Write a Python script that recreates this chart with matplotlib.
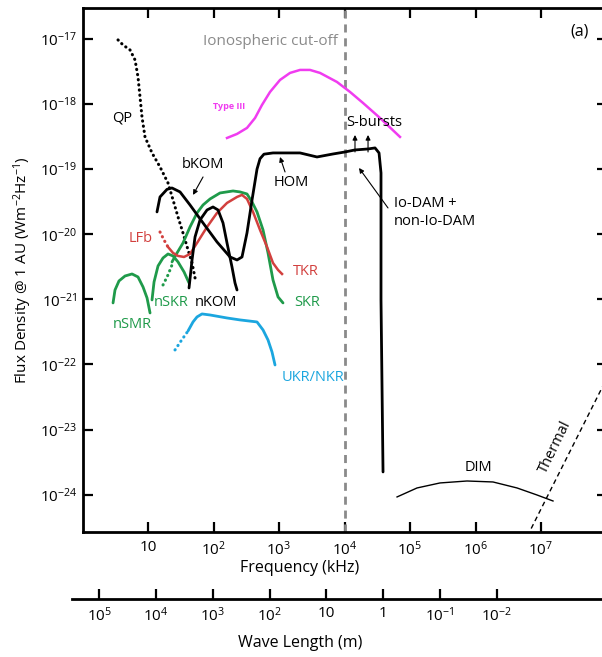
import numpy as np
import matplotlib
matplotlib.use("Agg")
import matplotlib.pyplot as plt

plt.rcParams['font.family'] = ['Open Sans', 'DejaVu Sans']
plt.rcParams['mathtext.default'] = 'regular'

# spectra as log10(frequency / kHz) and log10(flux / W m-2 Hz-1)
qp_logf = [0.542, 0.618, 0.725, 0.802, 0.847, 0.878, 0.908, 0.954, 1.061, 1.183, 1.305, 1.382, 1.458, 1.534, 1.611, 1.672, 1.718]
qp_logS = [-17.015, -17.092, -17.169, -17.323, -17.584, -17.891, -18.198, -18.505, -18.751, -18.966, -19.212, -19.473, -19.734, -19.980, -20.241, -20.441, -20.671]

# bKOM -> HOM -> DAM drawn as one black line
kom_logf = [1.137, 1.183, 1.290, 1.366, 1.489, 1.641, 1.840, 2.053, 2.252, 2.359, 2.435, 2.511, 2.588, 2.664, 2.710, 2.770, 2.908, 3.061, 3.321, 3.580, 3.824, 4.008, 4.160, 4.359, 4.466, 4.527, 4.557, 4.557, 4.588]
kom_logS = [-19.657, -19.427, -19.310, -19.289, -19.350, -19.550, -19.826, -20.118, -20.349, -20.395, -20.349, -19.980, -19.473, -19.000, -18.840, -18.770, -18.751, -18.751, -18.751, -18.813, -18.767, -18.736, -18.705, -18.690, -18.674, -18.751, -19.058, -21.009, -23.651]

nkom_logf = [1.626, 1.656, 1.672, 1.718, 1.794, 1.901, 1.992, 2.069, 2.145, 2.206, 2.282, 2.328, 2.359]
nkom_logS = [-20.825, -20.548, -20.395, -20.041, -19.780, -19.627, -19.581, -19.627, -19.826, -20.134, -20.502, -20.748, -20.856]

skr_logf = [1.366, 1.443, 1.534, 1.641, 1.748, 1.840, 1.947, 2.099, 2.298, 2.405, 2.511, 2.588, 2.664, 2.756, 2.832, 2.908, 2.985, 3.061]
skr_logS = [-20.425, -20.287, -20.134, -19.888, -19.673, -19.550, -19.458, -19.366, -19.335, -19.350, -19.381, -19.504, -19.657, -19.934, -20.287, -20.702, -20.963, -21.055]

tkr_logf = [1.305, 1.382, 1.458, 1.550, 1.641, 1.748, 1.901, 2.053, 2.206, 2.359, 2.435, 2.511, 2.603, 2.710, 2.817, 2.908, 2.985, 3.046]
tkr_logS = [-20.195, -20.287, -20.333, -20.349, -20.303, -20.134, -19.888, -19.673, -19.519, -19.427, -19.396, -19.458, -19.657, -19.934, -20.195, -20.441, -20.548, -20.610]

lfb_logf = [1.183, 1.244, 1.305]
lfb_logS = [-19.965, -20.088, -20.195]

nskr_logf = [1.061, 1.092, 1.153, 1.229, 1.305, 1.382, 1.458, 1.550, 1.626]
nskr_logS = [-21.009, -20.733, -20.487, -20.364, -20.303, -20.333, -20.425, -20.579, -20.748]
nskr_dot_logf = [1.229, 1.305, 1.366]
nskr_dot_logS = [-20.779, -20.625, -20.472]

nsmr_logf = [0.466, 0.496, 0.557, 0.649, 0.756, 0.847, 0.924, 0.985, 1.031]
nsmr_logS = [-21.055, -20.856, -20.717, -20.641, -20.610, -20.656, -20.810, -20.978, -21.209]

ukr_logf = [1.611, 1.687, 1.748, 1.824, 1.947, 2.206, 2.405, 2.664, 2.756, 2.832, 2.893, 2.939]
ukr_logS = [-21.485, -21.347, -21.270, -21.224, -21.240, -21.286, -21.316, -21.347, -21.470, -21.624, -21.808, -22.008]
ukr_dot_logf = [1.412, 1.504, 1.611]
ukr_dot_logS = [-21.777, -21.639, -21.485]

t3_logf = [2.206, 2.359, 2.511, 2.634, 2.740, 2.863, 3.015, 3.168, 3.321, 3.473, 3.626, 3.885, 4.084, 4.282, 4.542, 4.847]
t3_logS = [-18.521, -18.459, -18.367, -18.214, -18.014, -17.814, -17.630, -17.522, -17.476, -17.476, -17.522, -17.661, -17.814, -17.983, -18.214, -18.505]

dim_logf = [4.802, 5.107, 5.458, 5.870, 6.267, 6.634, 6.939, 7.183]
dim_logS = [-24.035, -23.897, -23.820, -23.790, -23.805, -23.897, -24.005, -24.097]

thermal_logf = [6.85, 8.10]
thermal_logS = [-24.52, -22.02]

cutoff_khz = 1e4

freq_ticks = [1e1, 1e2, 1e3, 1e4, 1e5, 1e6, 1e7]
freq_labels = ['10', '$10^2$', '$10^3$', '$10^4$', '$10^5$', '$10^6$', '$10^7$']
flux_ticks = [1e-17, 1e-18, 1e-19, 1e-20, 1e-21, 1e-22, 1e-23, 1e-24]
flux_labels = ['$10^{-17}$', '$10^{-18}$', '$10^{-19}$', '$10^{-20}$', '$10^{-21}$', '$10^{-22}$', '$10^{-23}$', '$10^{-24}$']
wave_ticks = [1e5, 1e4, 1e3, 1e2, 1e1, 1, 1e-1, 1e-2]
wave_labels = ['$10^5$', '$10^4$', '$10^3$', '$10^2$', '10', '1', '$10^{-1}$', '$10^{-2}$']

GREEN = '#1f9a4a'
RED = '#d2403e'
BLUE = '#1ba6df'
MAGENTA = '#f03cf0'
GREY = '#8a8a8a'


def p(lf, ls):
    return 10 ** np.array(lf), 10 ** np.array(ls)


fig = plt.figure(figsize=(6.02, 6.57), dpi=100)
ax = fig.add_axes([0.1379, 0.1903, 0.8696, 0.7976])
ax.set_xscale('log')
ax.set_yscale('log')
ax.set_xlim(10 ** 0.0076, 10 ** 8.0)
ax.set_ylim(10 ** -24.573, 10 ** -16.524)

dot = dict(linestyle=(0, (0.1, 1.6)), dash_capstyle='round', lw=2.2)
solid = dict(lw=2, solid_joinstyle='round', solid_capstyle='round')

ax.axvline(cutoff_khz, color=GREY, lw=2, linestyle=(0, (2.9, 2.1)))
ax.plot(*p(qp_logf, qp_logS), color='black', **dot)
ax.plot(*p(t3_logf, t3_logS), color=MAGENTA, lw=1.8, solid_joinstyle='round')
ax.plot(*p(nsmr_logf, nsmr_logS), color=GREEN, **solid)
ax.plot(*p(nskr_logf, nskr_logS), color=GREEN, **solid)
ax.plot(*p(nskr_dot_logf, nskr_dot_logS), color=GREEN, **dot)
ax.plot(*p(skr_logf, skr_logS), color=GREEN, **solid)
ax.plot(*p(lfb_logf, lfb_logS), color=RED, **dot)
ax.plot(*p(tkr_logf, tkr_logS), color=RED, lw=1.8, solid_joinstyle='round')
ax.plot(*p(ukr_logf, ukr_logS), color=BLUE, **solid)
ax.plot(*p(ukr_dot_logf, ukr_dot_logS), color=BLUE, **dot)
ax.plot(*p(nkom_logf, nkom_logS), color='black', **solid)
ax.plot(*p(kom_logf, kom_logS), color='black', **solid)
ax.plot(*p(dim_logf, dim_logS), color='black', lw=1)
ax.plot(*p(thermal_logf, thermal_logS), color='black', lw=1, linestyle=(0, (3.5, 2.5)))

fs = 10.5
txt = [
    ('QP', 0.603, -18.214, 'black'),
    ('bKOM', 1.840, -18.936, 'black'),
    ('LFb', 0.885, -20.072, RED),
    ('TKR', 3.412, -20.579, RED),
    ('SKR', 3.427, -21.055, GREEN),
    ('HOM', 3.183, -19.212, 'black'),
    ('nSKR', 1.351, -21.055, GREEN),
    ('nKOM', 2.038, -21.055, 'black'),
    ('nSMR', 0.756, -21.393, GREEN),
    ('UKR/NKR', 3.519, -22.207, BLUE),
    ('DIM', 6.038, -23.590, 'black'),
]
for s, lf, ls, c in txt:
    ax.text(10 ** lf, 10 ** ls, s, color=c, fontsize=fs, ha='center', va='center')

ax.text(10 ** 2.237, 10 ** -18.045, 'Type III', color=MAGENTA, fontsize=6.5,
        fontweight='bold', ha='center', va='center')
ax.text(10 ** 2.863, 10 ** -17.046, 'Ionospheric cut-off', color=GREY, fontsize=11,
        ha='center', va='center')
ax.text(10 ** 7.595, 10 ** -16.892, '(a)', fontsize=11.5, ha='center', va='center')
ax.text(10 ** 4.03, 10 ** -18.29, 'S-bursts', fontsize=fs, ha='left', va='center')
ax.text(10 ** 4.756, 10 ** -19.67, 'Io-DAM +\nnon-Io-DAM', fontsize=fs, ha='left',
        va='center', linespacing=1.3)
ax.text(10 ** 7.214, 10 ** -23.267, 'Thermal', fontsize=fs, ha='center', va='center',
        rotation=64)

arrow = dict(arrowstyle='-|>', lw=0.8, color='black', mutation_scale=7,
             shrinkA=0, shrinkB=0)
for lf in (4.160, 4.359):
    ax.annotate('', xy=(10 ** lf, 10 ** -18.475), xytext=(10 ** lf, 10 ** -18.736),
                arrowprops=arrow)
ax.annotate('', xy=(10 ** 4.221, 10 ** -18.982), xytext=(10 ** 4.664, 10 ** -19.596),
            arrowprops=arrow)
ax.annotate('', xy=(10 ** 3.015, 10 ** -18.813), xytext=(10 ** 3.092, 10 ** -19.043),
            arrowprops=arrow)
ax.annotate('', xy=(10 ** 1.687, 10 ** -19.396), xytext=(10 ** 1.840, 10 ** -19.120),
            arrowprops=arrow)

ax.set_xticks(freq_ticks)
ax.set_xticklabels(freq_labels)
ax.set_yticks(flux_ticks)
ax.set_yticklabels(flux_labels)
ax.minorticks_off()
ax.tick_params(direction='in', length=7, width=1.6, labelsize=11, top=True, right=True)
ax.tick_params(axis='x', pad=6)
ax.tick_params(axis='y', pad=4)
for sp in ax.spines.values():
    sp.set_linewidth(2)

fig.text(23 / 602, 1 - 270 / 657, 'Flux Density @ 1 AU (Wm$^{-2}$Hz$^{-1}$)', rotation=90,
         fontsize=11, ha='center', va='center')
fig.text(300 / 602, 1 - 568 / 657, 'Frequency (kHz)', fontsize=11.5, ha='center', va='center')
fig.text(300 / 602, 1 - 643 / 657, 'Wave Length (m)', fontsize=11.5, ha='center', va='center')

# separate wavelength scale
ax2 = fig.add_axes([72 / 602, 1 - 599 / 657, 0.89, 0.0005])
ax2.set_xscale('log')
ax2.set_xlim(10 ** 5.48, 10 ** -3.956)
ax2.set_yticks([])
for k in ('top', 'left', 'right'):
    ax2.spines[k].set_visible(False)
ax2.spines['bottom'].set_linewidth(2)
ax2.set_xticks(wave_ticks)
ax2.set_xticklabels(wave_labels)
ax2.minorticks_off()
ax2.tick_params(axis='x', direction='in', length=7, width=1.6, labelsize=11, pad=5)
ax2.patch.set_visible(False)

fig.savefig('out.png', dpi=100)
